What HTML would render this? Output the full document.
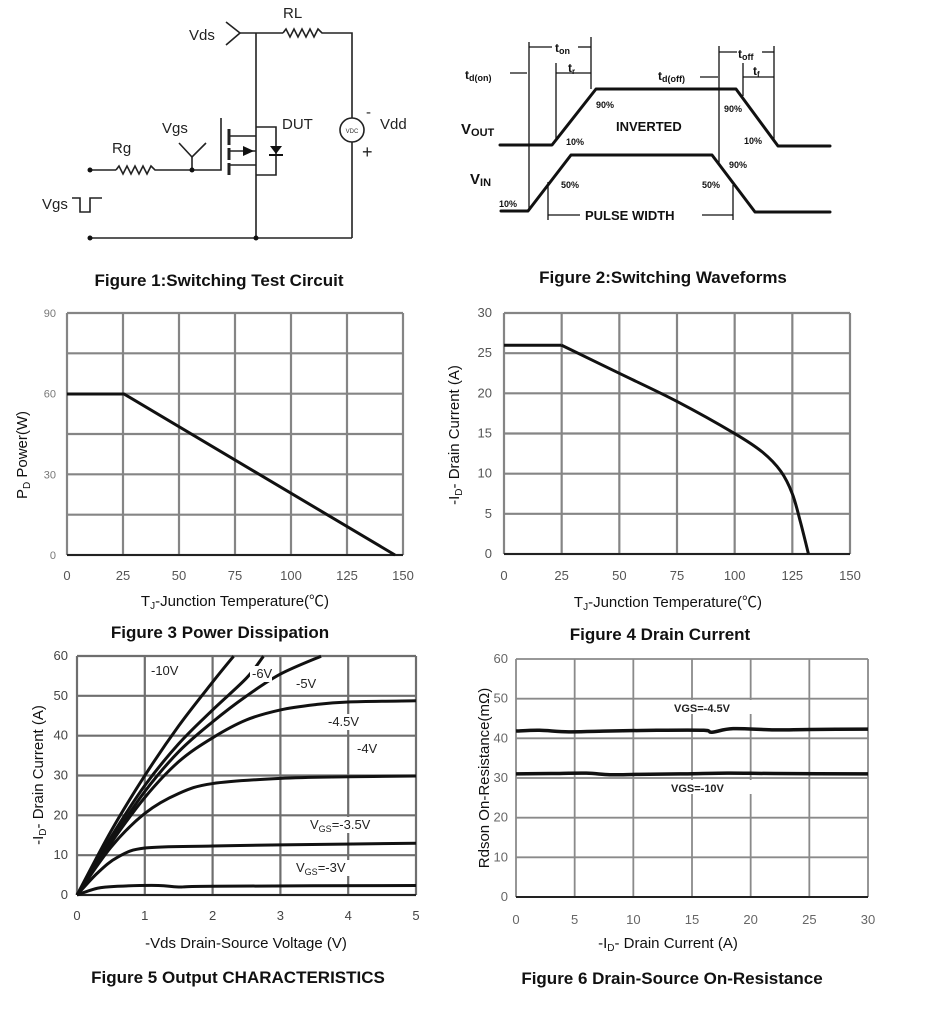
<!DOCTYPE html>
<html><head><meta charset="utf-8"><style>
html,body{margin:0;padding:0;background:#fff;}
svg{display:block;font-family:"Liberation Sans","Noto Sans CJK SC",sans-serif;}
.t{font-weight:bold;font-size:17px;fill:#111;}
.lb{font-size:15px;fill:#111;}
.w{fill:none;stroke:#222;stroke-width:1.6;}
.c{fill:none;stroke:#111;stroke-width:3;stroke-linejoin:round;stroke-linecap:round;}
.sm{font-size:9px;font-weight:bold;fill:#111;}
</style></head><body>
<svg id="s" width="926" height="1025" viewBox="0 0 926 1025" xmlns="http://www.w3.org/2000/svg">
<g class="w">
<polyline points="226,22 240,33 226,45"/>
<line x1="240" y1="33" x2="283" y2="33"/>
<polyline points="283,33 286,29 290,37 294,29 298,37 302,29 306,37 310,29 314,37 318,29 322,33 352,33 352,118"/>
<circle cx="352" cy="130" r="12"/>
<line x1="352" y1="142" x2="352" y2="238"/>
<line x1="256" y1="33" x2="256" y2="238"/>
<line x1="90" y1="238" x2="352" y2="238"/>
<line x1="90" y1="170" x2="116" y2="170"/>
<polyline points="116,170 119,166 123,174 127,166 131,174 135,166 139,174 143,166 147,174 151,166 155,170 221,170 221,118"/>
<polyline points="179,143 192,157 206,143"/>
<line x1="192" y1="157" x2="192" y2="170"/>
<line x1="229" y1="129" x2="229" y2="145" stroke-width="3"/>
<line x1="229" y1="148" x2="229" y2="160" stroke-width="3"/>
<line x1="229" y1="163" x2="229" y2="175" stroke-width="3"/>
<line x1="229" y1="136" x2="256" y2="136"/>
<line x1="229" y1="151" x2="256" y2="151"/>
<line x1="229" y1="165" x2="256" y2="165"/>
<polyline points="256,127 276,127 276,175 256,175"/>
<polyline points="72,198 80,198 80,212 90,212 90,198 102,198"/>
</g>
<polygon points="243,146 254,151 243,156" fill="#111"/>
<polygon points="270,146 282,146 276,154" fill="#111"/>
<line x1="269" y1="155" x2="283" y2="155" stroke="#111" stroke-width="2"/>
<circle cx="90" cy="170" r="2.5" fill="#111"/><circle cx="192" cy="170" r="2.5" fill="#111"/>
<circle cx="90" cy="238" r="2.5" fill="#111"/><circle cx="256" cy="238" r="2.5" fill="#111"/>
<g style="font-size:15px;fill:#222">
<text x="283" y="18">RL</text><text x="189" y="40">Vds</text>
<text x="282" y="129">DUT</text><text x="380" y="129">Vdd</text>
<text x="366" y="117">-</text><text x="362" y="158" style="font-size:18px">+</text>
<text x="162" y="133">Vgs</text><text x="112" y="153">Rg</text><text x="42" y="209">Vgs</text>
</g>
<text x="352" y="133" text-anchor="middle" style="font-size:6px;fill:#333">VDC</text>
<text class="t" x="219" y="286" text-anchor="middle">Figure 1:Switching Test Circuit</text>

<polyline class="c" points="500,145 552,145 596,89 736,89 778,146 830,146"/>
<polyline class="c" points="501,211 528,211 571,155 712,155 755,212 830,212"/>
<g stroke="#111" stroke-width="1.3">
<line x1="529" y1="42" x2="529" y2="211"/><line x1="591" y1="37" x2="591" y2="89"/>
<line x1="556" y1="63" x2="556" y2="140"/><line x1="719" y1="46" x2="719" y2="165"/>
<line x1="743" y1="63" x2="743" y2="96"/><line x1="774" y1="46" x2="774" y2="140"/>
<line x1="548" y1="182" x2="548" y2="220"/><line x1="733" y1="185" x2="733" y2="220"/>
<line x1="529" y1="47" x2="552" y2="47"/><line x1="578" y1="47" x2="591" y2="47"/>
<line x1="556" y1="73" x2="591" y2="73"/><line x1="510" y1="73" x2="527" y2="73"/>
<line x1="700" y1="77" x2="718" y2="77"/>
<line x1="719" y1="52" x2="737" y2="52"/><line x1="762" y1="52" x2="774" y2="52"/>
<line x1="743" y1="77" x2="774" y2="77"/>
<line x1="548" y1="215" x2="580" y2="215"/><line x1="702" y1="215" x2="733" y2="215"/>
</g>
<g font-weight="bold" fill="#111">
<text x="465" y="79" font-size="12">t<tspan font-size="9" dy="2">d(on)</tspan></text>
<text x="555" y="52" font-size="12">t<tspan font-size="9" dy="2">on</tspan></text>
<text x="568" y="72" font-size="12">t<tspan font-size="8" dy="2">r</tspan></text>
<text x="658" y="80" font-size="12">t<tspan font-size="9" dy="2">d(off)</tspan></text>
<text x="738" y="58" font-size="12">t<tspan font-size="9" dy="2">off</tspan></text>
<text x="753" y="75" font-size="12">t<tspan font-size="8" dy="2">f</tspan></text>
<text x="461" y="134" font-size="15">V<tspan font-size="11" dy="2">OUT</tspan></text>
<text x="470" y="184" font-size="15">V<tspan font-size="11" dy="2">IN</tspan></text>
<text x="616" y="131" font-size="13">INVERTED</text>
<text x="585" y="220" font-size="13">PULSE WIDTH</text>
</g>
<g class="sm">
<text x="596" y="108">90%</text><text x="566" y="145">10%</text>
<text x="724" y="112">90%</text><text x="744" y="144">10%</text>
<text x="729" y="168">90%</text><text x="561" y="188">50%</text>
<text x="702" y="188">50%</text><text x="499" y="207">10%</text>
</g>
<text class="t" x="663" y="283" text-anchor="middle">Figure 2:Switching Waveforms</text>

<g id="dyn"></g>

<text class="lb" x="235" y="606" text-anchor="middle">T<tspan font-size="10" dy="3">J</tspan><tspan dy="-3">-Junction Temperature(℃)</tspan></text>
<text class="t" x="220" y="638" text-anchor="middle">Figure 3 Power Dissipation</text>
<text class="lb" transform="translate(27,455) rotate(-90)" text-anchor="middle">P<tspan font-size="10" dy="3">D</tspan><tspan dy="-3">  Power(W)</tspan></text>

<text class="lb" x="668" y="607" text-anchor="middle">T<tspan font-size="10" dy="3">J</tspan><tspan dy="-3">-Junction Temperature(℃)</tspan></text>
<text class="t" x="660" y="640" text-anchor="middle">Figure 4 Drain Current</text>
<text class="lb" transform="translate(459,435) rotate(-90)" text-anchor="middle">-I<tspan font-size="10" dy="3">D</tspan><tspan dy="-3">- Drain Current (A)</tspan></text>

<text class="lb" x="246" y="948" text-anchor="middle">-Vds Drain-Source Voltage (V)</text>
<text class="t" x="238" y="983" text-anchor="middle">Figure 5 Output CHARACTERISTICS</text>
<text class="lb" transform="translate(43,775) rotate(-90)" text-anchor="middle">-I<tspan font-size="10" dy="3">D</tspan><tspan dy="-3">- Drain Current (A)</tspan></text>

<text class="lb" x="668" y="948" text-anchor="middle">-I<tspan font-size="10" dy="3">D</tspan><tspan dy="-3">- Drain Current (A)</tspan></text>
<text class="t" x="672" y="984" text-anchor="middle">Figure 6 Drain-Source On-Resistance</text>
<text class="lb" transform="translate(489,778) rotate(-90)" text-anchor="middle">Rdson On-Resistance(mΩ)</text>
</svg>
<script>
(function(){
var g=document.getElementById("dyn"),h="";
function grid(x0,x1,nx,y0,y1,ny,sw,col){
 for(var i=0;i<=nx;i++){var x=x0+(x1-x0)*i/nx;h+='<line x1="'+x+'" y1="'+y0+'" x2="'+x+'" y2="'+y1+'" stroke="'+col+'" stroke-width="'+sw+'"/>';}
 for(var j=0;j<=ny;j++){var y=y0+(y1-y0)*j/ny;h+='<line x1="'+x0+'" y1="'+y+'" x2="'+x1+'" y2="'+y+'" stroke="'+col+'" stroke-width="'+sw+'"/>';}
 h+='<line x1="'+x0+'" y1="'+y1+'" x2="'+x1+'" y2="'+y1+'" stroke="#222" stroke-width="2"/>';
}
function xt(x0,x1,xs,yx,fs,col){for(var i=0;i<xs.length;i++){var x=x0+(x1-x0)*i/(xs.length-1);h+='<text x="'+x+'" y="'+yx+'" text-anchor="middle" font-size="'+fs+'" fill="'+col+'">'+xs[i]+'</text>';}}
function yt(y0,y1,ys,xr,fs,col){for(var j=0;j<ys.length;j++){var y=y1+(y0-y1)*j/(ys.length-1);h+='<text x="'+xr+'" y="'+(y+4)+'" text-anchor="end" font-size="'+fs+'" fill="'+col+'">'+ys[j]+'</text>';}}
function smooth(p){var d="M"+p[0][0]+","+p[0][1];
 for(var i=0;i<p.length-1;i++){var a=p[i-1]||p[i],b=p[i],c=p[i+1],e=p[i+2]||c;
  d+=" C"+(b[0]+(c[0]-a[0])/6)+","+(b[1]+(c[1]-a[1])/6)+" "+(c[0]-(e[0]-b[0])/6)+","+(c[1]-(e[1]-b[1])/6)+" "+c[0]+","+c[1];}
 return d;}
function curve(pts,fx,fy,sw){var p=pts.map(function(q){return [fx(q[0]),fy(q[1])];});
 h+='<path d="'+smooth(p)+'" fill="none" stroke="#111" stroke-width="'+sw+'" stroke-linejoin="round"/>';}
grid(67,403,6,313,555,6,2.2,"#858585");
xt(67,403,[0,25,50,75,100,125,150],580,13,"#555");
yt(313,555,[0,30,60,90],56,11,"#777");
h+='<polyline points="67,394 124,394 395,555" fill="none" stroke="#111" stroke-width="3"/>';
grid(504,850,6,313,554,6,2.2,"#858585");
xt(504,850,[0,25,50,75,100,125,150],580,13,"#555");
yt(313,554,[0,5,10,15,20,25,30],492,13,"#555");
var f4x=function(t){return 504+t*346/150},f4y=function(i){return 554-i*8.03};
h+='<line x1="504" y1="'+f4y(26)+'" x2="'+f4x(25)+'" y2="'+f4y(26)+'" stroke="#111" stroke-width="3"/>';
curve([[25,26],[50,22.5],[75,19],[100,15],[112,12.7],[120,10.3],[125,7.5],[128.5,4],[132,0]],f4x,f4y,3);
grid(77,416,5,656,895,6,2.2,"#6e6e6e");
xt(77,416,[0,1,2,3,4,5],920,13,"#444");
yt(656,895,[0,10,20,30,40,50,60],68,13,"#444");
var fx=function(v){return 77+67.8*v},fy=function(i){return 895-3.98*i};
var C=[
[[0,0],[0.5,16],[1,30],[1.5,42.5],[2,53.5],[2.31,60]],
[[0,0],[0.5,14.5],[1,27.5],[1.5,38],[2,46.5],[2.5,54.5],[2.75,60]],
[[0,0],[0.5,13.5],[1,26],[1.5,36],[2,43.5],[2.5,50],[3,55.5],[3.6,60]],
[[0,0],[0.5,13],[1,24.5],[1.5,33.5],[2,39.5],[2.5,44],[3,46.5],[3.5,47.8],[4,48.5],[5,48.8]],
[[0,0],[0.5,12],[1,20.5],[1.5,25.5],[2,28],[3,29.3],[4,29.7],[5,29.9]],
[[0,0],[0.3,5.5],[0.6,9.5],[1,11.8],[2,12.3],[3,12.6],[5,13]],
[[0,0],[0.3,1.7],[0.6,2.2],[1.2,2.4],[1.5,2],[2,2.2],[5,2.4]]];
C.forEach(function(c){curve(c,fx,fy,3);});
function lab(x,y,w,t){h+='<rect x="'+(x-2)+'" y="'+(y-12)+'" width="'+w+'" height="16" fill="#fff"/><text x="'+x+'" y="'+y+'" font-size="13" fill="#222">'+t+'</text>';}
lab(151,675,30,"-10V");lab(252,678,22,"-6V");lab(296,688,22,"-5V");lab(328,726,34,"-4.5V");lab(357,753,24,"-4V");
lab(310,829,68,'V<tspan font-size="9" dy="3">GS</tspan><tspan dy="-3">=-3.5V</tspan>');
lab(296,872,58,'V<tspan font-size="9" dy="3">GS</tspan><tspan dy="-3">=-3V</tspan>');
grid(516,868,6,659,897,6,1.8,"#8a8a8a");
xt(516,868,[0,5,10,15,20,25,30],924,13,"#666");
yt(659,897,[0,10,20,30,40,50,60],508,13,"#666");
var gx=function(i){return 516+i*352/30},gy=function(r){return 897-r*3.97};
curve([[0,41.8],[2,42],[4.5,41.6],[8,41.8],[12,42],[16,42],[16.7,41.5],[18.5,42.4],[22,42.1],[25,42.2],[30,42.3]],gx,gy,3.5);
curve([[0,31],[3,31.1],[6,31.2],[8,30.8],[10.5,30.9],[14,31],[18,31.2],[22,31.1],[30,31]],gx,gy,3.5);
h+='<rect x="672" y="700" width="100" height="14" fill="#fff"/><text x="674" y="712" font-size="11" font-weight="bold" fill="#222">VGS=-4.5V</text>';
h+='<rect x="669" y="780" width="98" height="14" fill="#fff"/><text x="671" y="792" font-size="11" font-weight="bold" fill="#222">VGS=-10V</text>';
g.innerHTML=h;
})();
</script>
</body></html>
